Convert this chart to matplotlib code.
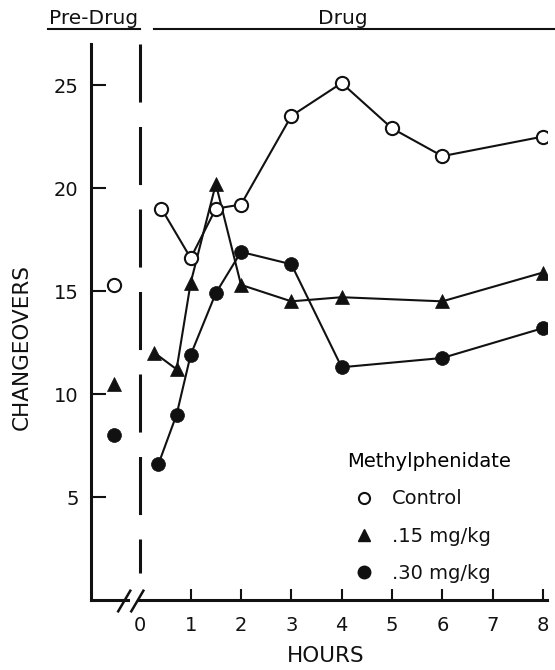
import matplotlib
matplotlib.use('Agg')
import matplotlib.pyplot as plt
from matplotlib.lines import Line2D

plt.rcParams['font.family'] = ['DejaVu Sans']

# pre-drug values (one point each, left of the break)
pre_x = -0.53
pre_control = 15.3
pre_015 = 10.5
pre_030 = 8.0

# drug session
control_hours = [0.42, 1, 1.5, 2, 3, 4, 5, 6, 8]
control = [19.0, 16.6, 19.0, 19.2, 23.5, 25.1, 22.9, 21.55, 22.5]
dose015_hours = [0.28, 0.72, 1, 1.5, 2, 3, 4, 6, 8]
dose015 = [12.0, 11.2, 15.4, 20.2, 15.3, 14.5, 14.7, 14.5, 15.9]
dose030_hours = [0.36, 0.72, 1, 1.5, 2, 3, 4, 6, 8]
dose030 = [6.6, 9.0, 11.9, 14.9, 16.9, 16.3, 11.3, 11.75, 13.2]

x_ticks = [1, 2, 3, 4, 5, 6, 7, 8]
x_labels = ['0', '1', '2', '3', '4', '5', '6', '7', '8']
y_ticks = [5, 10, 15, 20, 25]

ink = '#111111'
fs = 14

fig = plt.figure(figsize=(5.55, 6.7), dpi=100)
ax = fig.add_axes([0.164, 0.1045, 0.8216, 0.830])
ax.set_xlim(-0.98, 8.08)
ax.set_ylim(0, 27)

# marker styles
open_c = dict(marker='o', ms=9.5, mfc='white', mec=ink, mew=1.5, color=ink)
tri = dict(marker='^', ms=10, mfc=ink, mec=ink, mew=0.5, color=ink)
dot = dict(marker='o', ms=10, mfc=ink, mec=ink, mew=0.5, color=ink)

ax.plot(dose030_hours, dose030, lw=1.5, zorder=3, **dot)
ax.plot(dose015_hours, dose015, lw=1.5, zorder=3, **tri)
ax.plot(control_hours, control, lw=1.5, zorder=4, **open_c)

ax.plot([pre_x], [pre_control], ls='none', zorder=4, **open_c)
ax.plot([pre_x], [pre_015], ls='none', zorder=4, **tri)
ax.plot([pre_x], [pre_030], ls='none', zorder=4, **dot)

# dashed separator at drug onset
ax.plot([0, 0], [27, 1.3], color=ink, lw=2.2, dashes=(19, 8), zorder=2)

# axes look
for s in ['top', 'right']:
    ax.spines[s].set_visible(False)
ax.spines['left'].set_linewidth(2.2)
ax.spines['bottom'].set_linewidth(2.2)
ax.spines['left'].set_color(ink)
ax.spines['bottom'].set_color(ink)
ax.spines['bottom'].set_bounds(-0.02, 8.08)
ax.spines['left'].set_capstyle('projecting')

# axis stub before the break + break marks
ax.plot([-0.98, -0.24], [0, 0], color=ink, lw=2.2, clip_on=False,
        solid_capstyle='projecting')
for bx in [-0.32, -0.06]:
    ax.plot([bx - 0.12, bx + 0.12], [-0.55, 0.45], color=ink, lw=1.8,
            clip_on=False)

ax.set_yticks(y_ticks)
ax.set_xticks([0] + x_ticks)
ax.set_xticklabels(x_labels)
ax.tick_params(axis='y', direction='in', length=11, width=1.5, pad=9,
               labelsize=fs, colors=ink)
ax.tick_params(axis='x', direction='in', length=8, width=1.5, pad=11.5,
               labelsize=fs, colors=ink)
ax.xaxis.get_major_ticks()[0].tick1line.set_visible(False)

ax.set_xlabel('HOURS', fontsize=15.5, color=ink)
ax.set_ylabel('CHANGEOVERS', fontsize=15.5, color=ink)
ax.xaxis.set_label_coords(0.514, -0.083)
ax.yaxis.set_label_coords(-0.129, 0.455)

# legend
h_c = Line2D([], [], ls='none', marker='o', ms=8, mfc='white', mec=ink, mew=1.5)
h_t = Line2D([], [], ls='none', marker='^', ms=9, mfc=ink, mec=ink)
h_d = Line2D([], [], ls='none', marker='o', ms=9, mfc=ink, mec=ink)
leg = ax.legend([h_c, h_t, h_d], ['Control', '.15 mg/kg', '.30 mg/kg'],
                title='Methylphenidate', title_fontsize=fs, fontsize=fs,
                frameon=False, alignment='left', loc='upper left',
                bbox_to_anchor=(0.6126, 0.335), bbox_transform=fig.transFigure,
                borderpad=0.35, borderaxespad=0, handlelength=1.8,
                handletextpad=0.5, labelspacing=0.93)
for t in leg.get_texts():
    t.set_color(ink)

# Pre-Drug / Drug header
fig.text(0.1685, 0.973, 'Pre-Drug', ha='center', va='center', fontsize=14.5,
         color=ink)
fig.text(0.618, 0.973, 'Drug', ha='center', va='center', fontsize=14.5,
         color=ink)
fig.add_artist(Line2D([0.0865, 0.252], [0.957, 0.957], color=ink, lw=1.5,
                      transform=fig.transFigure))
fig.add_artist(Line2D([0.277, 1.0], [0.957, 0.957], color=ink, lw=1.5,
                      transform=fig.transFigure))

fig.savefig('out.png', dpi=100)
